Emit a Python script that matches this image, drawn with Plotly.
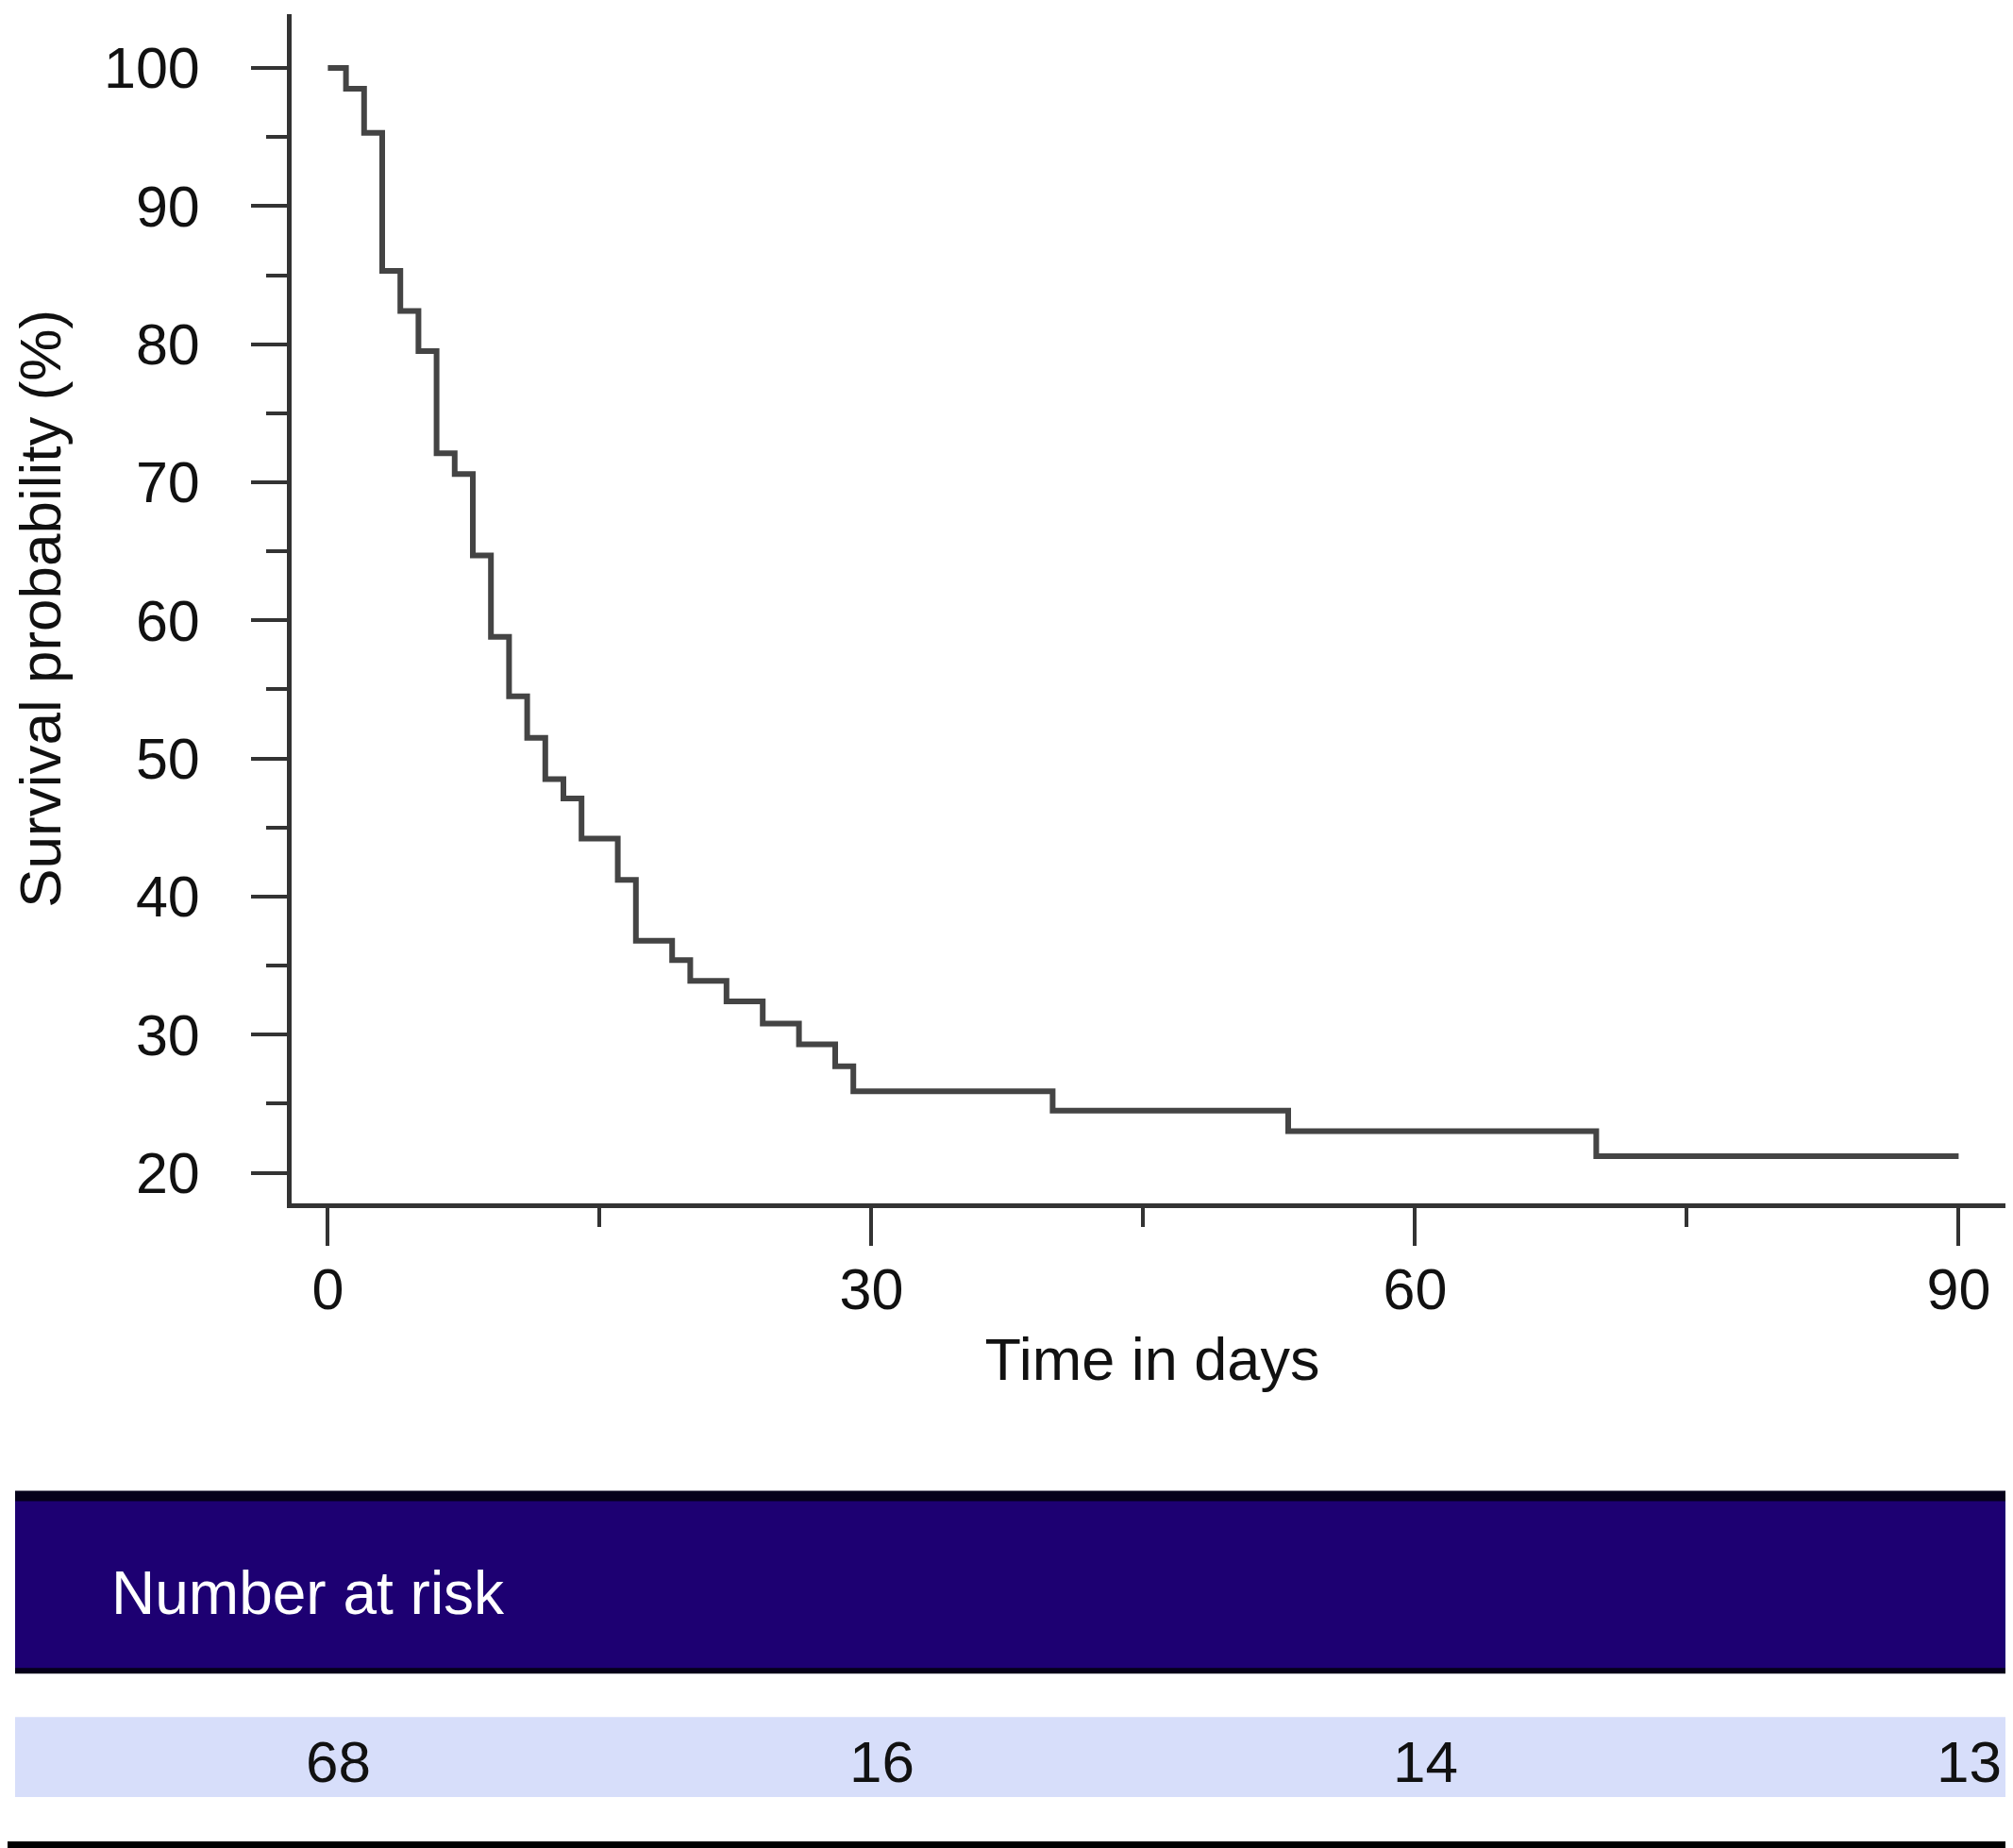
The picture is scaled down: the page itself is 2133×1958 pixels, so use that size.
import plotly.graph_objects as go

# ---- data ----
event_days = [0, 1, 2, 3, 4, 5, 6, 7, 8, 9, 10, 11, 12, 13, 14, 16, 17, 19, 20,
              22, 24, 26, 28, 29, 40, 53, 70]
survival_pct = [100, 98.5, 95.3, 85.3, 82.4, 79.5, 72.1, 70.6, 64.7, 58.8, 54.5,
                51.5, 48.5, 47.1, 44.2, 41.2, 36.8, 35.4, 33.9, 32.4, 30.8, 29.3,
                27.7, 25.9, 24.5, 23.0, 21.2]
follow_up_end = 90

risk_days = [0, 30, 60, 90]
number_at_risk = [68, 16, 14, 13]

x_ticks = [0, 30, 60, 90]
y_ticks = [20, 30, 40, 50, 60, 70, 80, 90, 100]

# ---- figure geometry (pixels) ----
W, H = 2133, 1958
PL, PR, PT, PB = 301, 2125, 7, 1268

def py(p):
    return 1 - p / H

FONT = "Liberation Sans Narrow, Arial Narrow, Liberation Sans, Arial, sans-serif"
AX = "#333333"
TXT = "#111111"

xs = event_days + [follow_up_end]
ys = survival_pct + [survival_pct[-1]]

fig = go.Figure()
fig.add_trace(go.Scatter(
    x=xs, y=ys, mode="lines", line=dict(shape="hv", color="#444444", width=6),
    showlegend=False, hoverinfo="skip"))

fig.update_layout(
    width=W, height=H, margin=dict(l=0, r=0, t=0, b=0),
    paper_bgcolor="white", plot_bgcolor="white",
    font=dict(family=FONT, color=TXT, size=60),
    xaxis=dict(
        domain=[PL / W, PR / W], range=[-2, 93],
        tickvals=x_ticks, ticktext=[str(v) for v in x_ticks],
        showgrid=False, zeroline=False,
        showline=True, linecolor=AX, linewidth=5,
        ticks="outside", ticklen=40, tickwidth=4, tickcolor=AX,
        ticklabelstandoff=-6,
        minor=dict(ticks="outside", ticklen=20, tickwidth=4, tickcolor=AX,
                   tick0=0, dtick=15, showgrid=False),
        tickfont=dict(size=61, family=FONT, color=TXT),
        title=dict(text="Time in days", font=dict(size=63, family=FONT, color=TXT),
                   standoff=20),
    ),
    yaxis=dict(
        domain=[py(PB), py(PT)], range=[17.8, 103.9],
        tickvals=y_ticks, ticktext=[str(v) for v in y_ticks],
        showgrid=False, zeroline=False,
        showline=True, linecolor=AX, linewidth=5,
        ticks="outside", ticklen=38, tickwidth=4, tickcolor=AX,
        ticklabelstandoff=42,
        minor=dict(ticks="outside", ticklen=22, tickwidth=4, tickcolor=AX,
                   tick0=0, dtick=5, showgrid=False),
        tickfont=dict(size=61, family=FONT, color=TXT),
        title=dict(text="Survival probability (%)",
                   font=dict(size=62, family=FONT, color=TXT), standoff=40),
    ),
)

# ---- number-at-risk table ----
shapes = [
    dict(type="rect", xref="paper", yref="paper", x0=8 / W, x1=1.0,
         y0=py(1767), y1=py(1573), fillcolor="#05001a", line=dict(width=0), layer="below"),
    dict(type="rect", xref="paper", yref="paper", x0=8 / W, x1=1.0,
         y0=py(1761), y1=py(1584), fillcolor="#1d0072", line=dict(width=0), layer="below"),
    dict(type="rect", xref="paper", yref="paper", x0=8 / W, x1=1.0,
         y0=py(1898), y1=py(1813), fillcolor="#d7defa", line=dict(width=0), layer="below"),
    dict(type="rect", xref="paper", yref="paper", x0=0, x1=1.0,
         y0=py(1958), y1=py(1945), fillcolor="#000000", line=dict(width=0), layer="below"),
]
fig.update_layout(shapes=shapes)

annotations = [dict(text="Number at risk", xref="paper", yref="paper",
                    x=108 / W, y=py(1682), xanchor="left", yanchor="middle",
                    showarrow=False, font=dict(size=64, family=FONT, color="white"))]
for d, n in zip(risk_days, number_at_risk):
    annotations.append(dict(text=str(n), xref="x", yref="paper", x=d, y=py(1860),
                            xanchor="center", yanchor="middle", xshift=11,
                            showarrow=False,
                            font=dict(size=62, family=FONT, color=TXT)))
fig.update_layout(annotations=annotations)

fig.write_html("out.html")
